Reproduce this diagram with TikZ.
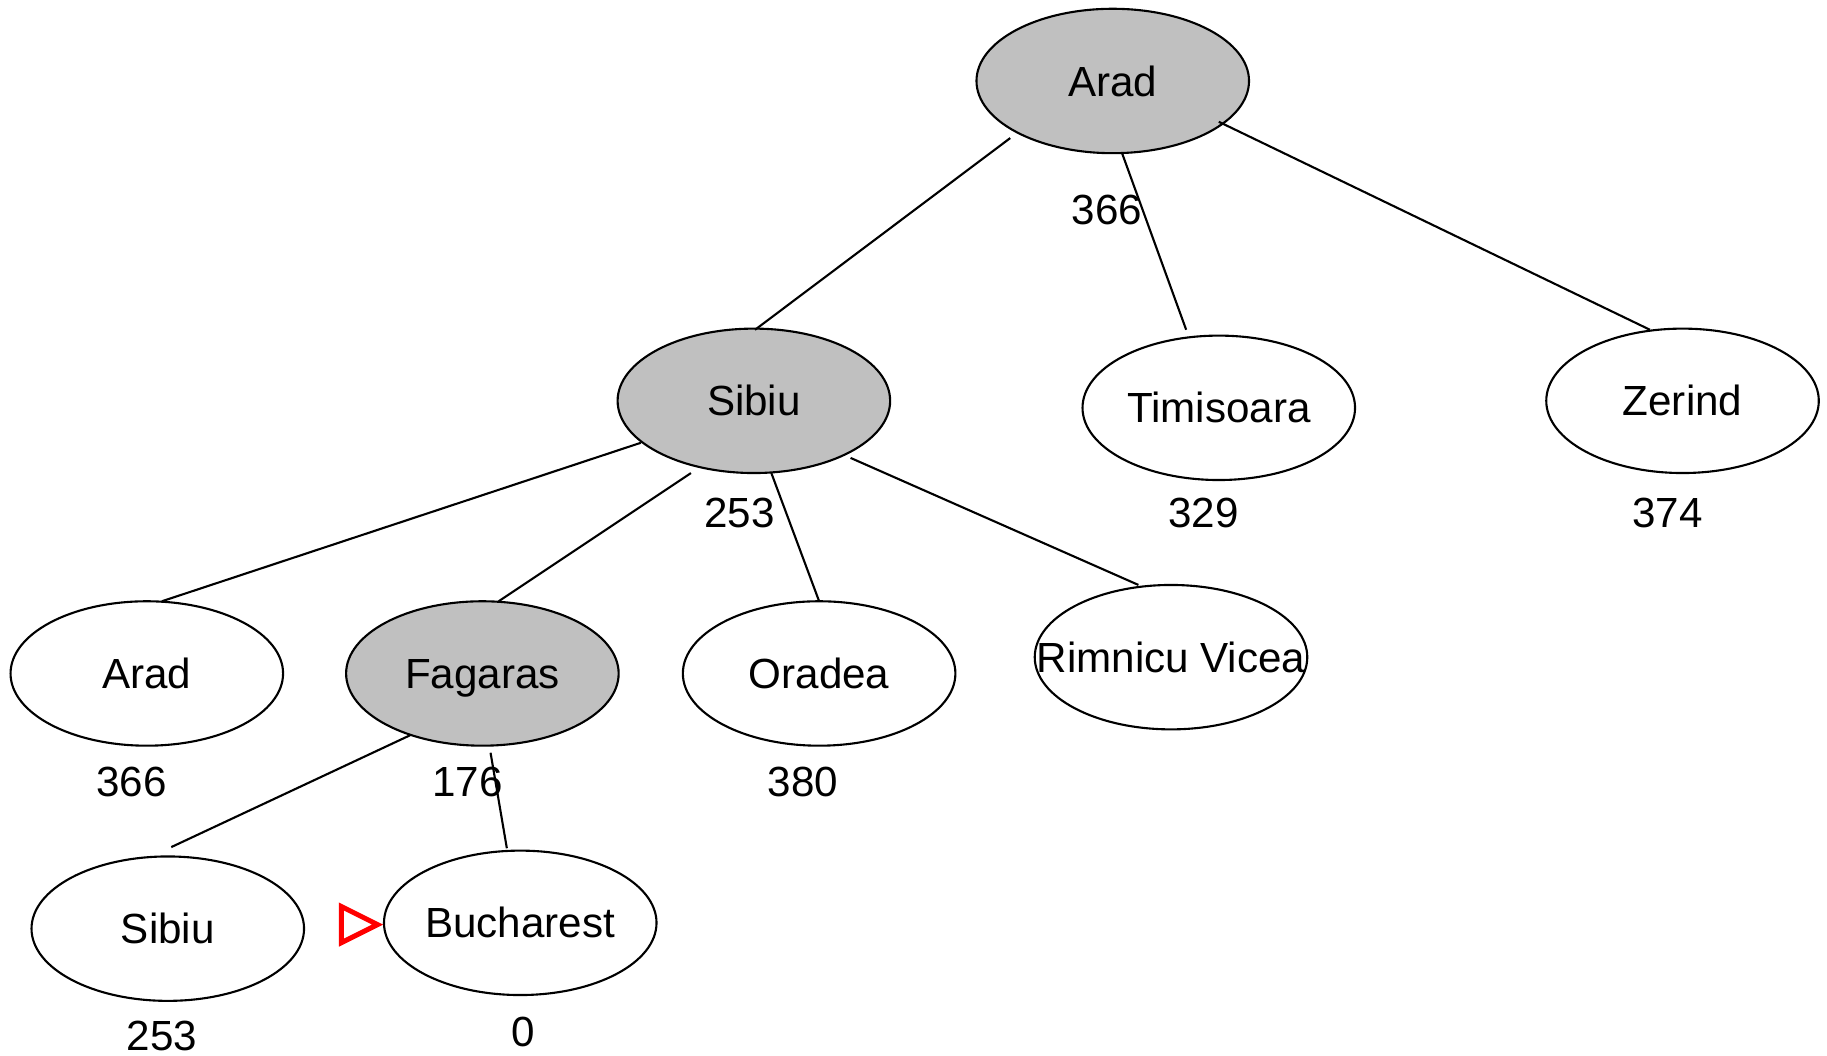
\documentclass[tikz,border=0pt]{standalone}
\usepackage{fontspec}
\setmainfont{Liberation Sans}
\usetikzlibrary{shapes.geometric,calc}
\definecolor{expanded}{HTML}{C0C0C0}
\tikzset{
  city/.style={ellipse,draw=black,line width=0.6pt,minimum width=2.7266cm,minimum height=1.4448cm,inner sep=0pt,
    font=\fontsize{12}{14}\selectfont,text height=8.6pt,text depth=0pt},
  open/.style={city,fill=white},
  done/.style={city,fill=expanded},
  hval/.style={inner sep=0pt,font=\fontsize{12}{14}\selectfont,text height=8.6pt,text depth=0pt},
  edge/.style={line width=0.6pt,draw=black},
  marker/.style={draw=red,line width=1.42pt,miter limit=10}
}
\newcommand{\ctext}[1]{\makebox[0pt]{#1}}
\begin{document}
\begin{tikzpicture}[x=0.011652cm,y=-0.011652cm]
\useasboundingbox (0,0) rectangle (1568,906);
% nodes
\node[done] (arad) at (955,69.5) {\ctext{Arad}};
\node[done] (sibiu) at (647,344) {\ctext{Sibiu}};
\node[open] (timi) at (1046,350) {\ctext{Timisoara}};
\node[open] (zerind) at (1444,344) {\ctext{Zerind}};
\node[open] (arad2) at (126,578) {\ctext{Arad}};
\node[done] (fagaras) at (414,578) {\ctext{Fagaras}};
\node[open] (oradea) at (703,578) {\ctext{Oradea}};
\node[open] (rimnicu) at (1005,564) {\ctext{Rimnicu Vicea}};
\node[open] (sibiu2) at (144,797) {\ctext{Sibiu}};
\node[open] (buch) at (446.5,792) {\ctext{Bucharest}};
% heuristic values
\node[hval] (h1) at (950,180) {366};
\node[hval] (h2) at (634.5,439.4) {253};
\node[hval] (h3) at (1033,439.4) {329};
\node[hval] (h4) at (1431,439.4) {374};
\node[hval] (h5) at (113,670.7) {366};
\node[hval] (h6) at (401.2,671) {176};
\node[hval] (h7) at (689,671) {380};
\node[hval] (h8) at (139,889) {253};
\node[hval] (h9) at (448.9,884.8) {0};
% connectors
\draw[edge] ($(arad)+(-88,49)$) -- ($(sibiu)+(1,-61)$);
\draw[edge] ($(arad)+(8,62)$) -- ($(timi)+(-28,-67)$);
\draw[edge] ($(arad)+(91,35)$) -- ($(zerind)+(-28,-61)$);
\draw[edge] ($(sibiu)+(-97,36)$) -- ($(arad2)+(13,-62)$);
\draw[edge] ($(sibiu)+(-54,62)$) -- ($(fagaras)+(14,-62)$);
\draw[edge] ($(sibiu)+(15,62)$) -- ($(oradea)+(0,-62)$);
\draw[edge] ($(sibiu)+(83,49)$) -- ($(rimnicu)+(-28,-62)$);
\draw[edge] ($(fagaras)+(-62,53)$) -- ($(sibiu2)+(3,-70)$);
\draw[edge] ($(fagaras)+(7,68)$) -- ($(buch)+(-11.5,-64)$);
% goal marker
\draw[marker] (293,778) -- (324,793.5) -- (293,809) -- cycle;
\end{tikzpicture}
\end{document}
